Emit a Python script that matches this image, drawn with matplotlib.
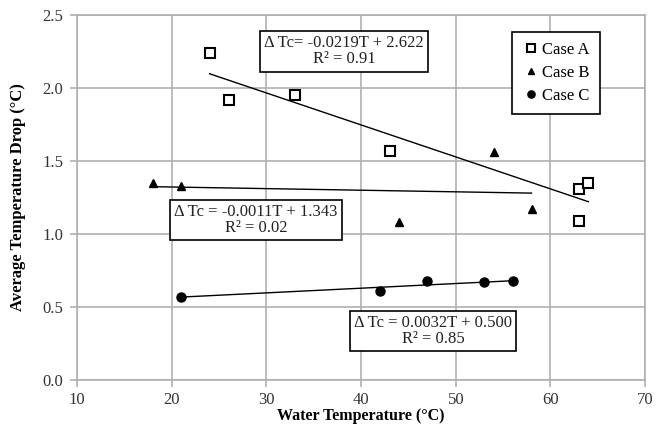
import matplotlib.pyplot as plt
import numpy as np

plt.rcParams['font.family'] = ['Liberation Serif', 'DejaVu Serif']

# dados
case_a_x = [24, 26, 33, 43, 63, 64, 63]
case_a_y = [2.24, 1.92, 1.95, 1.57, 1.31, 1.35, 1.09]
case_b_x = [18, 21, 44, 54, 58]
case_b_y = [1.35, 1.33, 1.08, 1.56, 1.17]
case_c_x = [21, 42, 47, 53, 56]
case_c_y = [0.57, 0.61, 0.68, 0.67, 0.68]

# coeficientes das linhas de tendencia (a, b, R2)
fit_a = (-0.0219, 2.622, 0.91)
fit_b = (-0.0011, 1.343, 0.02)
fit_c = (0.0032, 0.500, 0.85)

fig = plt.figure(figsize=(6.59, 4.24), dpi=100)
ax = fig.add_axes([0.117, 0.104, 0.862, 0.861])

ax.plot(case_a_x, case_a_y, 's', mfc='white', mec='black', mew=1.5, ms=7, label='Case A')
ax.plot(case_b_x, case_b_y, '^', color='black', ms=6, label='Case B')
ax.plot(case_c_x, case_c_y, 'o', color='black', ms=6.5, label='Case C')

# linhas de tendencia
for xs, (a, b, r2) in [(case_a_x, fit_a), (case_b_x, fit_b), (case_c_x, fit_c)]:
    xx = np.array([min(xs), max(xs)])
    ax.plot(xx, a * xx + b, color='black', lw=1)

caixa = dict(boxstyle='square,pad=0.25', fc='white', ec='black', lw=1.2)
ax.text(38.2, 2.25, 'Δ Tc= -0.0219T + 2.622\nR² = 0.91', ha='center', va='center',
        fontsize=12, bbox=caixa, linespacing=1.0, color='#222222')
ax.text(28.9, 1.096, 'Δ Tc = -0.0011T + 1.343\nR² = 0.02', ha='center', va='center',
        fontsize=12, bbox=caixa, linespacing=1.0, color='#222222')
ax.text(47.6, 0.336, 'Δ Tc = 0.0032T + 0.500\nR² = 0.85', ha='center', va='center',
        fontsize=12, bbox=caixa, linespacing=1.0, color='#222222')

ax.set_xlim(10, 70)
ax.set_ylim(0, 2.5)
ax.set_xticks(range(10, 71, 10))
ax.set_yticks(np.arange(0, 2.51, 0.5))
ax.set_yticklabels(['%.1f' % v for v in np.arange(0, 2.51, 0.5)])
ax.grid(True, color='#b0b0b0', lw=1.2)
ax.set_axisbelow(True)
for s in ax.spines.values():
    s.set_color('#b0b0b0')
    s.set_linewidth(1.2)
ax.tick_params(axis='both', labelsize=12, color='#b0b0b0', labelcolor='#333333', length=5, width=1.2)
ax.tick_params(axis='x', pad=4)
ax.tick_params(axis='y', pad=5)

ax.set_xlabel('Water Temperature (°C)', fontsize=11.5, fontweight='bold', labelpad=0)
ax.set_ylabel('Average Temperature Drop (°C)', fontsize=12, fontweight='bold', labelpad=12)

leg = ax.legend(loc='upper right', bbox_to_anchor=(0.935, 0.975), fancybox=False,
                edgecolor='black', fontsize=12, handletextpad=0.2, handlelength=1.0,
                borderpad=0.6, labelspacing=0.4, framealpha=1, markerscale=0.8)
leg.get_frame().set_linewidth(1.2)

fig.savefig('out.png', dpi=100)
